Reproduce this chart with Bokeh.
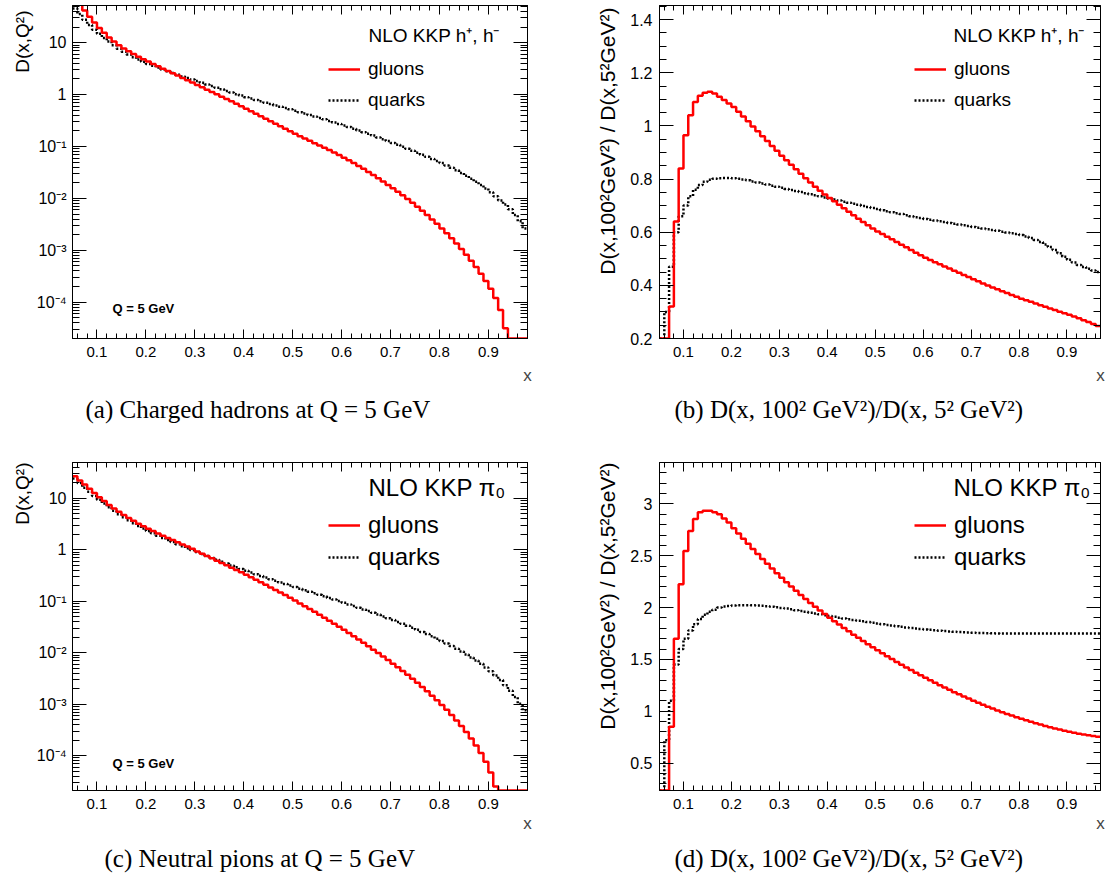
import numpy as np
from bokeh.plotting import figure
from bokeh.models import (Range1d, FixedTicker, LinearAxis, LogAxis, Legend,
                          LegendItem, Label, Title, CustomJSTickFormatter)
from bokeh.layouts import column, row
from bokeh.embed import file_html
from bokeh.resources import INLINE

# ---------------- data (bins of width 0.01 starting at x = 0.05) ----------------
X_START = 0.05
BIN_WIDTH = 0.01

# (a) charged hadrons, D(x, Q^2) at Q = 5 GeV
hadron_gluon_q5 = [
    89, 63, 41.7, 31.6, 24.5, 19.1, 15.5, 12.6, 10.5, 8.91,
    7.76, 6.84, 6.03, 5.37, 4.79, 4.32, 3.89, 3.51, 3.16, 2.85,
    2.57, 2.32, 2.09, 1.88, 1.70, 1.53, 1.38, 1.245, 1.12, 1.01,
    0.912, 0.822, 0.741, 0.664, 0.594, 0.532, 0.476, 0.427, 0.382, 0.342,
    0.306, 0.274, 0.245, 0.220, 0.197, 0.176, 0.158, 0.143, 0.129, 0.116,
    0.105, 0.0944, 0.0851, 0.0767, 0.0684, 0.0610, 0.0543, 0.0479, 0.0422, 0.0372,
    0.0324, 0.0282, 0.0245, 0.0211, 0.0182, 0.0157, 0.0135, 0.0115, 0.00977, 0.00822,
    0.00692, 0.00575, 0.00479, 0.00394, 0.00324, 0.00263, 0.00214, 0.00170, 0.00135, 0.00106,
    0.000822, 0.000631, 0.000479, 0.000355, 0.000257, 0.000182, 0.000120, 0.0000708, 0.0000316, 0,
    0, 0, 0]
hadron_quark_q5 = [
    45.7, 35.5, 27.5, 21.9, 17.8, 14.8, 12.3, 10.5, 8.91, 7.67,
    6.68, 5.89, 5.25, 4.73, 4.27, 3.89, 3.59, 3.31, 3.05, 2.82,
    2.60, 2.40, 2.24, 2.09, 1.95, 1.82, 1.69, 1.57, 1.46, 1.36,
    1.26, 1.17, 1.10, 1.02, 0.955, 0.891, 0.838, 0.787, 0.740, 0.697,
    0.656, 0.618, 0.582, 0.550, 0.519, 0.490, 0.459, 0.431, 0.404, 0.378,
    0.355, 0.333, 0.311, 0.291, 0.272, 0.254, 0.237, 0.220, 0.204, 0.189,
    0.175, 0.162, 0.149, 0.138, 0.127, 0.117, 0.108, 0.0989, 0.0906, 0.0830,
    0.0759, 0.0692, 0.0631, 0.0575, 0.0525, 0.0479, 0.0432, 0.0389, 0.0347, 0.0309,
    0.0272, 0.0240, 0.0209, 0.0182, 0.0155, 0.0132, 0.0110, 0.00912, 0.00759, 0.00617,
    0.00479, 0.00363, 0.00263]

# (b) charged hadrons, ratio D(x,100^2)/D(x,5^2)
hadron_gluon_ratio = [
    0, 0, 0.32, 0.64, 0.84, 0.965, 1.04, 1.09, 1.113, 1.125,
    1.128, 1.122, 1.11, 1.097, 1.084, 1.071, 1.053, 1.035, 1.017, 0.998,
    0.980, 0.961, 0.943, 0.924, 0.906, 0.888, 0.871, 0.854, 0.837, 0.820,
    0.803, 0.787, 0.771, 0.756, 0.742, 0.729, 0.716, 0.703, 0.690, 0.677,
    0.664, 0.651, 0.638, 0.626, 0.614, 0.603, 0.593, 0.583, 0.573, 0.563,
    0.553, 0.543, 0.533, 0.523, 0.513, 0.504, 0.495, 0.487, 0.479, 0.471,
    0.463, 0.455, 0.447, 0.439, 0.431, 0.423, 0.415, 0.407, 0.399, 0.392,
    0.385, 0.378, 0.371, 0.364, 0.357, 0.350, 0.344, 0.338, 0.332, 0.325,
    0.319, 0.313, 0.307, 0.301, 0.295, 0.289, 0.283, 0.276, 0.269, 0.262,
    0.255, 0.247]
hadron_quark_ratio = [
    0, 0.30, 0.47, 0.60, 0.66, 0.70, 0.735, 0.76, 0.778, 0.79,
    0.797, 0.801, 0.803, 0.804, 0.804, 0.803, 0.801, 0.798, 0.795, 0.791,
    0.787, 0.783, 0.779, 0.775, 0.771, 0.767, 0.763, 0.759, 0.755, 0.751,
    0.747, 0.743, 0.739, 0.735, 0.731, 0.727, 0.723, 0.719, 0.715, 0.711,
    0.707, 0.703, 0.699, 0.695, 0.691, 0.687, 0.683, 0.679, 0.675, 0.671,
    0.668, 0.664, 0.660, 0.656, 0.653, 0.650, 0.647, 0.644, 0.641, 0.638,
    0.635, 0.632, 0.629, 0.626, 0.623, 0.620, 0.617, 0.614, 0.611, 0.608,
    0.605, 0.602, 0.599, 0.596, 0.593, 0.589, 0.584, 0.578, 0.571, 0.563,
    0.554, 0.544, 0.533, 0.521, 0.508, 0.496, 0.486, 0.477, 0.469, 0.462,
    0.456, 0.450]

# (c) neutral pions, D(x, Q^2) at Q = 5 GeV
pion_gluon_q5 = [
    26.9, 22.4, 18.6, 15.5, 12.7, 10.6, 8.91, 7.50, 6.38, 5.50,
    4.79, 4.17, 3.67, 3.24, 2.88, 2.57, 2.32, 2.09, 1.88, 1.71,
    1.55, 1.41, 1.28, 1.16, 1.05, 0.933, 0.841, 0.759, 0.684, 0.617,
    0.556, 0.501, 0.452, 0.407, 0.366, 0.327, 0.293, 0.262, 0.234, 0.209,
    0.186, 0.166, 0.148, 0.132, 0.117, 0.104, 0.0912, 0.0804, 0.0708, 0.0624,
    0.0550, 0.0481, 0.0421, 0.0367, 0.0320, 0.0279, 0.0242, 0.0209, 0.0181, 0.0156,
    0.0134, 0.0115, 0.00989, 0.00845, 0.00721, 0.00614, 0.00521, 0.00442, 0.00372, 0.00313,
    0.00260, 0.00216, 0.00178, 0.00146, 0.00119, 0.000966, 0.000776, 0.000617, 0.000484, 0.000376,
    0.000288, 0.000216, 0.000158, 0.000112, 0.0000759, 0.0000468, 0.0000251, 0, 0, 0,
    0, 0, 0]
pion_quark_q5 = [
    24.5, 20.0, 16.2, 13.5, 11.2, 9.44, 7.94, 6.76, 5.75, 4.95,
    4.32, 3.76, 3.31, 2.92, 2.60, 2.33, 2.10, 1.89, 1.71, 1.56,
    1.42, 1.29, 1.18, 1.08, 0.991, 0.908, 0.832, 0.762, 0.698, 0.641,
    0.589, 0.542, 0.499, 0.460, 0.425, 0.393, 0.363, 0.337, 0.312, 0.290,
    0.269, 0.251, 0.233, 0.217, 0.202, 0.189, 0.176, 0.164, 0.153, 0.143,
    0.134, 0.125, 0.116, 0.108, 0.101, 0.0938, 0.0871, 0.0809, 0.0752, 0.0697,
    0.0646, 0.0597, 0.0552, 0.0509, 0.0470, 0.0433, 0.0398, 0.0366, 0.0335, 0.0306,
    0.0279, 0.0254, 0.0231, 0.0209, 0.0188, 0.0169, 0.0151, 0.0135, 0.0120, 0.0106,
    0.00929, 0.00813, 0.00708, 0.00610, 0.00519, 0.00437, 0.00363, 0.00295, 0.00234, 0.00182,
    0.00138, 0.00102, 0.000759]

# (d) neutral pions, ratio D(x,100^2)/D(x,5^2)
pion_gluon_ratio = [
    0, 0, 0.85, 1.70, 2.225, 2.545, 2.74, 2.855, 2.92, 2.935,
    2.935, 2.92, 2.90, 2.86, 2.82, 2.765, 2.715, 2.665, 2.615, 2.566,
    2.518, 2.47, 2.423, 2.377, 2.332, 2.288, 2.245, 2.203, 2.162, 2.122,
    2.083, 2.045, 2.008, 1.972, 1.937, 1.903, 1.869, 1.836, 1.803, 1.771,
    1.739, 1.708, 1.677, 1.647, 1.617, 1.588, 1.559, 1.531, 1.503, 1.476,
    1.449, 1.423, 1.397, 1.372, 1.347, 1.322, 1.298, 1.274, 1.251, 1.228,
    1.206, 1.184, 1.163, 1.142, 1.122, 1.102, 1.082, 1.063, 1.044, 1.026,
    1.008, 0.991, 0.974, 0.958, 0.942, 0.927, 0.912, 0.898, 0.884, 0.871,
    0.858, 0.846, 0.834, 0.823, 0.812, 0.802, 0.792, 0.783, 0.775, 0.767,
    0.760, 0.754]
pion_quark_ratio = [
    0, 0.72, 1.10, 1.45, 1.60, 1.70, 1.78, 1.84, 1.89, 1.93,
    1.96, 1.98, 2.00, 2.01, 2.015, 2.02, 2.022, 2.023, 2.023, 2.022,
    2.02, 2.017, 2.013, 2.008, 2.003, 1.997, 1.99, 1.983, 1.975, 1.967,
    1.959, 1.951, 1.943, 1.935, 1.927, 1.919, 1.911, 1.903, 1.895, 1.888,
    1.881, 1.874, 1.867, 1.86, 1.853, 1.846, 1.839, 1.833, 1.827, 1.821,
    1.815, 1.809, 1.804, 1.799, 1.794, 1.789, 1.785, 1.781, 1.777, 1.773,
    1.770, 1.767, 1.764, 1.761, 1.759, 1.757, 1.755, 1.754, 1.753, 1.752,
    1.751, 1.75, 1.75, 1.75, 1.75, 1.75, 1.75, 1.75, 1.75, 1.75,
    1.75, 1.75, 1.75, 1.75, 1.75, 1.75, 1.75, 1.75, 1.75, 1.75,
    1.75, 1.75]

# ---------------- ticks and labels ----------------
x_major_ticks = [0.1, 0.2, 0.3, 0.4, 0.5, 0.6, 0.7, 0.8, 0.9]
x_minor_ticks = [round(0.06 + 0.02 * i, 2) for i in range(47)]
log_major_ticks = [1e-4, 1e-3, 1e-2, 1e-1, 1, 10]
log_minor_ticks = [k * 10.0 ** e for e in range(-5, 2) for k in range(2, 10)]
ratio_h_major = [0.2, 0.4, 0.6, 0.8, 1.0, 1.2, 1.4]
ratio_h_minor = [round(0.2 + 0.05 * i, 2) for i in range(26)]
ratio_p_major = [0.5, 1.0, 1.5, 2.0, 2.5, 3.0]
ratio_p_minor = [round(0.3 + 0.1 * i, 1) for i in range(32)]

SANS = "Liberation Sans"
SERIF = "Liberation Serif"

LOG_FMT = """
const e = Math.round(Math.log10(tick));
if (e == 0) return "1";
if (e == 1) return "10";
const m = {"-": "\u207b", "0": "\u2070", "1": "\u00b9", "2": "\u00b2", "3": "\u00b3",
           "4": "\u2074", "5": "\u2075", "6": "\u2076", "7": "\u2077", "8": "\u2078", "9": "\u2079"};
let s = "10";
for (const c of String(e)) s += m[c];
return s;
"""
LIN_FMT = "return String(Math.round(tick * 100) / 100);"


def step_xy(vals, floor):
    v = np.maximum(np.asarray(vals, dtype=float), floor)
    edges = X_START + BIN_WIDTH * np.arange(len(v) + 1)
    xs = np.repeat(edges, 2)[1:-1]
    ys = np.repeat(v, 2)
    return xs, ys


def style_axis(ax, maj_in, min_in, font_size, labels=True):
    ax.major_tick_in = maj_in
    ax.major_tick_out = 0
    ax.minor_tick_in = min_in
    ax.minor_tick_out = 0
    ax.major_tick_line_color = "black"
    ax.minor_tick_line_color = "black"
    ax.axis_line_color = "black"
    ax.major_label_text_font = SANS
    if labels:
        ax.major_label_text_font_size = font_size
        ax.major_label_text_color = "black"
    else:
        ax.major_label_text_font_size = "1px"
        ax.major_label_text_color = None
        ax.major_label_standoff = 0


def make_panel(width, height, borders, x_end, y_lo, y_hi, log, y_major, y_minor,
               ylabel, ylabel_size, ylabel_offset, ylabel_standoff, ytick_standoff,
               xlabel_standoff, vals_g, vals_q, header, text_size, row_h, spacing,
               legend_xy, header_xy, q_xy, caption, cap_offset, cap_standoff):
    bl, br, bt, bb = borders
    p = figure(width=width, height=height,
               x_range=Range1d(X_START, x_end), y_range=Range1d(y_lo, y_hi),
               y_axis_type="log" if log else "linear",
               output_backend="svg", toolbar_location=None,
               min_border_left=bl, min_border_right=br,
               min_border_top=bt, min_border_bottom=bb)
    p.grid.visible = False
    p.outline_line_color = "black"
    p.outline_line_width = 1
    p.background_fill_color = "white"
    p.border_fill_color = "white"

    yt = FixedTicker(ticks=y_major, minor_ticks=y_minor)
    xt = FixedTicker(ticks=x_major_ticks, minor_ticks=x_minor_ticks)

    # bottom x axis
    xa = p.xaxis[0]
    xa.ticker = xt
    style_axis(xa, 9, 5, "15px")
    xa.major_label_standoff = 8
    xa.axis_label = "x"
    xa.axis_label_text_font = SANS
    xa.axis_label_text_font_size = "17px"
    xa.axis_label_text_font_style = "normal"
    xa.axis_label_standoff = xlabel_standoff
    xa.axis_label_align = "end"

    # left y axis
    ya = p.yaxis[0]
    ya.ticker = yt
    style_axis(ya, 14, 7, "16px")
    ya.major_label_standoff = ytick_standoff
    ya.formatter = CustomJSTickFormatter(code=LOG_FMT if log else LIN_FMT)

    # y-axis title, placed at the top end of the axis
    p.add_layout(Title(text=ylabel, align="right", offset=ylabel_offset,
                       vertical_align="middle", standoff=ylabel_standoff,
                       text_font=SANS, text_font_size=ylabel_size,
                       text_font_style="normal", text_color="black"), "left")

    # mirrored axes (ticks only)
    top = LinearAxis(ticker=FixedTicker(ticks=x_major_ticks, minor_ticks=x_minor_ticks))
    style_axis(top, 9, 5, None, labels=False)
    p.add_layout(top, "above")
    if log:
        right = LogAxis(ticker=FixedTicker(ticks=y_major, minor_ticks=y_minor))
    else:
        right = LinearAxis(ticker=FixedTicker(ticks=y_major, minor_ticks=y_minor))
    style_axis(right, 14, 7, None, labels=False)
    p.add_layout(right, "right")

    # histograms
    xq, yq = step_xy(vals_q, y_lo)
    xg, yg = step_xy(vals_g, y_lo)
    rq = p.line(xq, yq, line_color="black", line_width=2.5, line_dash="2 2")
    rg = p.line(xg, yg, line_color="red", line_width=2.5)

    legend = Legend(items=[LegendItem(label="gluons", renderers=[rg]),
                           LegendItem(label="quarks", renderers=[rq])],
                    location=legend_xy, orientation="vertical",
                    glyph_width=32, glyph_height=row_h, label_height=row_h,
                    label_standoff=8, spacing=spacing, padding=0, margin=0,
                    border_line_alpha=0, background_fill_alpha=0,
                    label_text_font=SANS, label_text_font_size=text_size,
                    label_text_color="black")
    p.add_layout(legend)

    p.add_layout(Label(x=header_xy[0], y=header_xy[1], x_units="screen", y_units="screen",
                       text=header, text_font=SANS, text_font_size=text_size,
                       text_color="black", text_baseline="alphabetic", text_align="left"))
    if q_xy is not None:
        p.add_layout(Label(x=q_xy[0], y=q_xy[1], x_units="screen", y_units="screen",
                           text="Q = 5 GeV", text_font=SANS, text_font_size="13px",
                           text_font_style="bold", text_color="black",
                           text_baseline="alphabetic", text_align="left"))

    p.add_layout(Title(text=caption, align="left", offset=cap_offset,
                       text_font=SERIF, text_font_size="25px", text_font_style="normal",
                       text_color="black", standoff=cap_standoff), "below")
    return p


hdr_h = "NLO KKP h\u207a, h\u207b"
hdr_p = "NLO KKP \u03c0\u2080"
lab_q = "D(x,Q\u00b2)"
lab_r = "D(x,100\u00b2GeV\u00b2) / D(x,5\u00b2GeV\u00b2)"

pa = make_panel(586, 448, (72, 59, 5, 110), 0.98, 2e-5, 52, True,
                log_major_ticks, log_minor_ticks, lab_q, "19px", 5, 0, 6, 6,
                hadron_gluon_q5, hadron_quark_q5, hdr_h, "19px", 22, 9,
                (256, 227), (296, 303), (40, 30),
                "(a) Charged hadrons at Q = 5 GeV", 13, 13)
pb = make_panel(523, 448, (71, 9, 5, 110), 0.97, 0.2, 1.453, False,
                ratio_h_major, ratio_h_minor, lab_r, "21px", 2, 16, 7, 6,
                hadron_gluon_ratio, hadron_quark_ratio, hdr_h, "19px", 22, 9,
                (255, 227), (294, 303), None,
                "(b) D(x, 100\u00b2 GeV\u00b2)/D(x, 5\u00b2 GeV\u00b2)", 15, 13)
pc = make_panel(586, 440, (72, 59, 14, 98), 0.98, 2.1e-5, 50, True,
                log_major_ticks, log_minor_ticks, lab_q, "19px", 0, 0, 6, 2,
                pion_gluon_q5, pion_quark_q5, hdr_p, "24px", 28, 4,
                (256, 219), (296, 303), (40, 27),
                "(c) Neutral pions at Q = 5 GeV", 32, 14)
pd_ = make_panel(523, 440, (71, 9, 14, 98), 0.97, 0.235, 3.4, False,
                 ratio_p_major, ratio_p_minor, lab_r, "21px", 0, 16, 7, 2,
                 pion_gluon_ratio, pion_quark_ratio, hdr_p, "24px", 28, 4,
                 (255, 219), (294, 303), None,
                 "(d) D(x, 100\u00b2 GeV\u00b2)/D(x, 5\u00b2 GeV\u00b2)", 15, 14)

layout = column(row(pa, pb), row(pc, pd_))
open("out.html", "w").write(file_html(layout, INLINE))
